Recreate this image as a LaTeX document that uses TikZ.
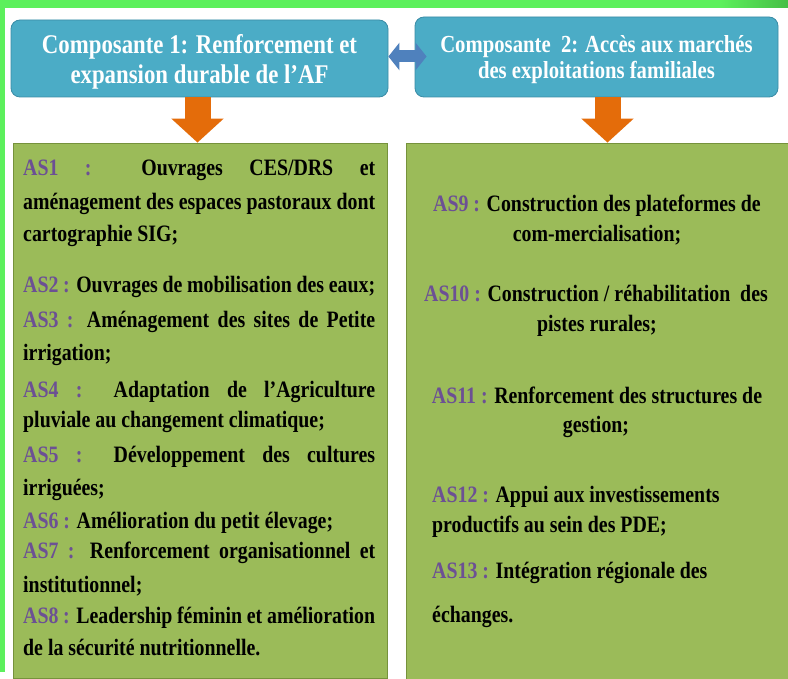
\documentclass[tikz,border=0pt]{standalone}
\usepackage{fontspec}
\setmainfont{Liberation Serif}[FakeStretch=0.845]
\usetikzlibrary{arrows.meta}
\usetikzlibrary{positioning}

\definecolor{compblue}{RGB}{75,172,198}
\definecolor{compborder}{RGB}{58,140,166}
\definecolor{linkblue}{RGB}{79,129,189}
\definecolor{asgreen}{RGB}{155,187,89}
\definecolor{asborder}{RGB}{118,146,60}
\definecolor{floworange}{RGB}{228,108,10}
\definecolor{aspurple}{RGB}{108,80,148}
\definecolor{framegreen}{RGB}{92,240,92}
\definecolor{framedark}{RGB}{70,190,70}

\newcommand{\aslab}[1]{\textcolor{aspurple}{AS#1 :}}

\tikzset{
  compbox/.style={rectangle, rounded corners=9pt, draw=compborder, fill=compblue, text=white, align=center, inner sep=0pt, line width=0.8pt},
  asbox/.style={rectangle, draw=asborder, fill=asgreen, inner sep=0pt, line width=0.8pt},
  asline/.style={anchor=base west, inner sep=0pt, font=\fontsize{23.5}{28}\selectfont\bfseries},
  ascentre/.style={anchor=base, inner sep=0pt, font=\fontsize{23.5}{28}\selectfont\bfseries},
  downarrow/.style={draw=floworange, line width=26pt, -{Triangle[width=51pt,length=24pt]}},
  linkarrow/.style={draw=linkblue, line width=12pt, {Triangle[width=27pt,length=11pt]}-{Triangle[width=27pt,length=11pt]}}
}

\begin{document}
\begin{tikzpicture}[x=1pt,y=-1pt]
\useasboundingbox (0,0) rectangle (788,679);
\clip (0,0) rectangle (788,679);
\fill[white] (0,0) rectangle (788,679);

% green frame
\fill[framegreen] (0,0) rectangle (720,8);
\shade[left color=framegreen, right color=framedark] (720,0) rectangle (788,8);
\fill[framegreen] (0,0) rectangle (5,672);

% component boxes
\node[compbox, minimum width=377pt, minimum height=77pt, font=\fontsize{27}{30}\selectfont\bfseries] (comp1) at (199.5,58.5) {\rule{0pt}{25pt}Composante 1: Renforcement et\\expansion durable de l’AF};
\node[compbox, minimum width=363pt, minimum height=80pt, font=\fontsize{24.5}{26}\selectfont\bfseries] (comp2) at (596.5,57) {\rule{0pt}{22pt}Composante\ \ 2: Accès aux marchés\\des exploitations familiales};

% activity boxes
\node[asbox, minimum width=374pt, minimum height=535pt] (left) at (200,410.5) {};
\node[asbox, minimum width=386pt, minimum height=539pt] (right) at (599,412.5) {};

\draw[linkarrow] ([yshift=2pt]comp1.east) -- ([xshift=12pt,yshift=2pt]comp1.east -| comp2.west);
\draw[downarrow] ([xshift=-2pt]comp1.south) -- ([xshift=-2pt]comp1.south |- left.north);
\draw[downarrow] ([xshift=11pt]comp2.south) -- ([xshift=11pt]comp2.south |- right.north);

% left column
\node[asline] (l1) at (23,176) {\makebox[352pt][s]{\aslab{1} Ouvrages CES/DRS et}};
\node[asline] (l2) at (23,210) {\makebox[352pt][s]{aménagement des espaces pastoraux dont}};
\node[asline] (l3) at (23,242) {cartographie SIG;};
\node[asline] (l4) at (23,293) {\makebox[352pt][s]{\aslab{2} Ouvrages de mobilisation des eaux;}};
\node[asline] (l5) at (23,328) {\makebox[352pt][s]{\aslab{3} Aménagement des sites de Petite}};
\node[asline] (l6) at (23,360) {irrigation;};
\node[asline] (l7) at (23,397) {\makebox[352pt][s]{\aslab{4} Adaptation de l’Agriculture}};
\node[asline] (l8) at (23,427) {pluviale au changement climatique;};
\node[asline] (l9) at (23,462) {\makebox[352pt][s]{\aslab{5} Développement des cultures}};
\node[asline] (l10) at (23,495) {irriguées;};
\node[asline] (l11) at (23,528) {\aslab{6} Amélioration du petit élevage;};
\node[asline] (l12) at (23,558) {\makebox[352pt][s]{\aslab{7} Renforcement organisationnel et}};
\node[asline] (l13) at (23,592) {institutionnel;};
\node[asline] (l14) at (23,623) {\makebox[352pt][s]{\aslab{8} Leadership féminin et amélioration}};
\node[asline] (l15) at (23,655) {de la sécurité nutritionnelle.};

% right column
\node[ascentre] (r1) at (597,212) {\aslab{9} Construction des plateformes de};
\node[ascentre] (r2) at (597,242) {com-mercialisation;};
\node[ascentre] (r3) at (596,302) {\aslab{10} Construction / réhabilitation\ \ des};
\node[ascentre] (r4) at (597,332) {pistes rurales;};
\node[ascentre] (r5) at (597,403) {\aslab{11} Renforcement des structures de};
\node[ascentre] (r6) at (596,432) {gestion;};
\node[asline] (r7) at (432,502) {\aslab{12} Appui aux investissements};
\node[asline] (r8) at (432,532) {productifs au sein des PDE;};
\node[asline] (r9) at (432,578) {\aslab{13} Intégration régionale des};
\node[asline] (r10) at (432,622) {échanges.};
\end{tikzpicture}
\end{document}
